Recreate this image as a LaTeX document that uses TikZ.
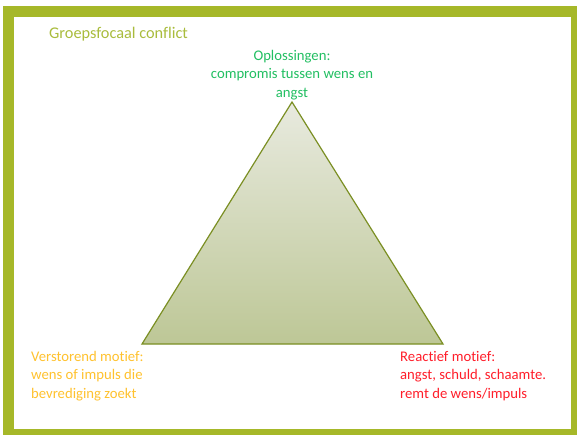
\documentclass[tikz,border=0pt]{standalone}
\usepackage{fontspec}
\setmainfont[Ligatures=NoCommon]{Carlito}
\usetikzlibrary{positioning}
\definecolor{framegreen}{HTML}{A6B829}
\definecolor{titlegreen}{HTML}{A9BC3C}
\definecolor{solgreen}{HTML}{22BF62}
\definecolor{motiforange}{HTML}{FFC22E}
\definecolor{motifred}{HTML}{FF1E2A}
\definecolor{triline}{HTML}{7B8F23}
\definecolor{tritop}{HTML}{E8EADF}
\definecolor{tribottom}{HTML}{BDC796}

\begin{document}
\begin{tikzpicture}[x=1pt, y=-1pt,
                txt/.style={font=\fontsize{14.7}{18.5}\selectfont, inner sep=0pt}, % text blocks
                triangle/.style={draw=triline, line width=1.2pt, line join=miter, top color=tritop, bottom color=tribottom} % the triangle
                ]
                \useasboundingbox (0,0) rectangle (577,435);
                \fill[framegreen] (3,6) rectangle (577,435);
                \fill[white] (14,17) rectangle (571,429);
                \coordinate (apex) at (292,102);
                \coordinate (baseleft) at (142,344);
                \coordinate (baseright) at (443,344);
                \path[triangle] (apex) -- (baseleft) -- (baseright) -- cycle;
                \node[txt, font=\fontsize{16.3}{18}\selectfont, text=titlegreen, anchor=west] (title) at (49,34) {Groepsfocaal conflict};
                \node[txt, text=solgreen, align=center, anchor=north] (solutions) at (292,50) {Oplossingen:\\compromis tussen wens en\\angst};
                \node[txt, text=motiforange, align=left, anchor=north west] (disturbing) at (31,351) {Verstorend motief:\\wens of impuls die\\bevrediging zoekt};
                \node[txt, text=motifred, align=left, anchor=north west] (reactive) at (400,351) {Reactief motief:\\angst, schuld, schaamte.\\remt de wens/impuls};
            \end{tikzpicture}
\end{document}
